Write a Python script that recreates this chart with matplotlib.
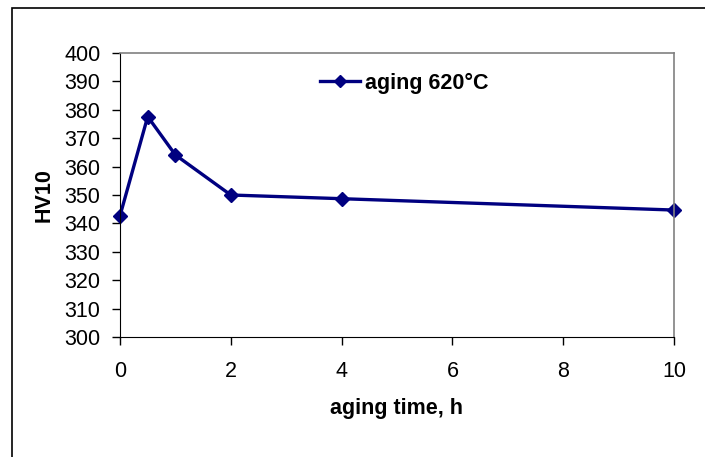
import matplotlib.pyplot as plt
from matplotlib.patches import Rectangle

plt.rcParams['font.family'] = ['Liberation Sans', 'DejaVu Sans']

time_h = [0, 0.5, 1, 2, 4, 10]
hv10 = [342.7, 377.6, 364.1, 350.0, 348.7, 344.7]
series_label = 'aging 620°C'

fig = plt.figure(figsize=(7.05, 4.57), dpi=100)
W, H = 705, 457
ax = fig.add_axes([120 / W, 1 - 337 / H, (674 - 120) / W, (337 - 53) / H])

# outer chart frame (runs off the right and bottom edges)
fig.patches.append(Rectangle((12 / W, -0.1), 1.2, 1 - 8 / H + 0.1,
                             transform=fig.transFigure, fill=False,
                             edgecolor='black', linewidth=1.2))

ax.plot(time_h, hv10, color='#000080', linewidth=2.4, marker='D',
        markersize=7.5, label=series_label, clip_on=False)

ax.set_xlim(0, 10)
ax.set_ylim(300, 400)
ax.set_xticks(range(0, 11, 2))
ax.set_yticks(range(300, 401, 10))
ax.tick_params(direction='out', length=6, width=1, labelsize=15.5)
ax.tick_params(axis='x', pad=11)
ax.tick_params(axis='y', pad=8)

for side in ['top', 'right']:
    ax.spines[side].set_color('#808080')
    ax.spines[side].set_linewidth(1.2)
for side in ['left', 'bottom']:
    ax.spines[side].set_color('black')

ax.set_xlabel('aging time, h', fontsize=15.5, fontweight='bold', labelpad=12)
ax.set_ylabel('HV10', fontsize=15.5, fontweight='bold', labelpad=7)

ax.legend(loc='center left', bbox_to_anchor=(0.361, 0.893), frameon=False,
          prop={'weight': 'bold', 'size': 15.5}, handlelength=1.85,
          handletextpad=0.25, markerscale=0.75, borderaxespad=0, borderpad=0)

fig.savefig('out.png', dpi=100)
